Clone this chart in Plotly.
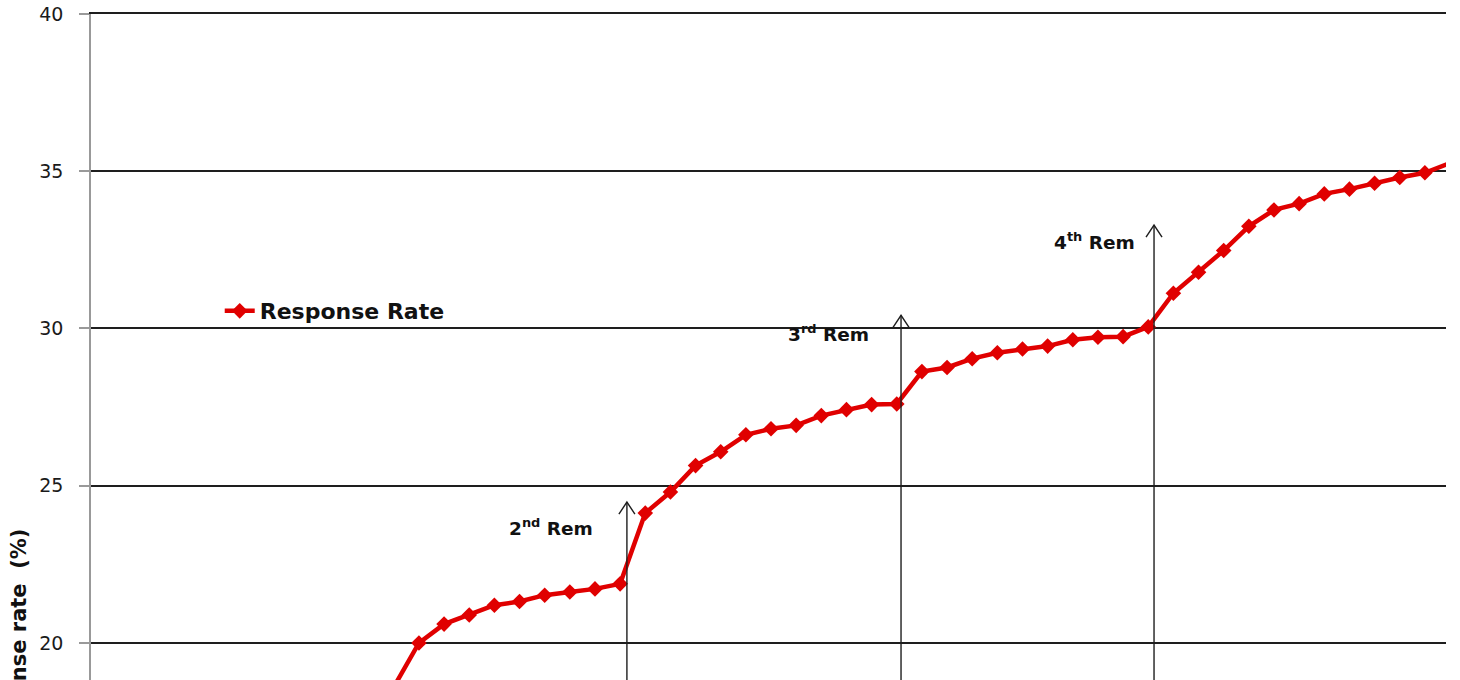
import plotly.graph_objects as go

# Response rate per step (x = step index); earlier steps sit below the visible window
steps = list(range(12, 55))
response_rate = [18.6, 20.0, 20.6, 20.89, 21.2, 21.32, 21.52, 21.62, 21.72, 21.88,
                 24.13, 24.8, 25.64, 26.08, 26.62, 26.81, 26.92, 27.23, 27.42, 27.58, 27.6,
                 28.63, 28.76, 29.04, 29.23, 29.35, 29.44, 29.64, 29.72, 29.74, 30.05,
                 31.12, 31.79, 32.48, 33.25, 33.77, 33.97, 34.28, 34.43, 34.62, 34.8, 34.95, 35.26]

# Remission markers: arrow position, arrow tip, label
rem_x = [21.27, 32.17, 42.23]
rem_tip = [24.48, 30.42, 33.29]
rem_labels = ['2<sup>nd</sup> Rem', '3<sup>rd</sup> Rem', '4<sup>th</sup> Rem']
label_x = [18.25, 29.3, 39.85]
label_y = [23.69, 29.85, 32.77]

y_ticks = [20, 25, 30, 35, 40]

RED = '#e00000'
INK = '#1e1e1e'

fig = go.Figure()
fig.add_trace(go.Scatter(x=steps, y=response_rate, mode='lines+markers', name='Response Rate',
                         line=dict(color=RED, width=4.5),
                         marker=dict(symbol='diamond', size=12, color=RED),
                         cliponaxis=False, showlegend=True))

# arrows: stem + open V head
for xa, tip in zip(rem_x, rem_tip):
    fig.add_shape(type='line', xref='x', yref='y', x0=xa, x1=xa, y0=10, y1=tip,
                  line=dict(color=INK, width=1.4))
    fig.add_shape(type='path', xref='x', yref='y', xsizemode='pixel', ysizemode='pixel',
                  xanchor=xa, yanchor=tip, path='M-8,-12 L0,0 L8,-12',
                  line=dict(color=INK, width=1.4))

for lx, ly, txt in zip(label_x, label_y, rem_labels):
    fig.add_annotation(x=lx, y=ly, text='<b>' + txt + '</b>', showarrow=False,
                       font=dict(family='DejaVu Sans', size=18.5, color='#111'))

# y axis title (mostly cut off at the bottom in the source)
fig.add_annotation(xref='paper', yref='y', x=-0.053, y=20.05, text='<b>Response rate  (%)</b>',
                   textangle=-90, showarrow=False, xanchor='center', yanchor='middle',
                   font=dict(family='DejaVu Sans', size=21, color='#111'))

fig.update_layout(width=1460, height=680, plot_bgcolor='white', paper_bgcolor='white',
                  showlegend=True,
                  margin=dict(l=91, r=14, t=14, b=0),
                  legend=dict(x=0.095, y=0.554, xanchor='left', yanchor='middle',
                              bgcolor='rgba(0,0,0,0)',
                              font=dict(family='DejaVu Sans', size=22, color='#111', weight='bold')))
# top x-axis line doubles as the 40 gridline
fig.update_xaxes(range=[-0.04, 53.84], side='top', showgrid=False, zeroline=False,
                 showline=True, linecolor=INK, linewidth=1.6,
                 showticklabels=False, ticks='')
fig.update_yaxes(range=[18.823, 40], tickvals=y_ticks, showgrid=True, gridcolor=INK, gridwidth=1.6,
                 zeroline=False, showline=True, linecolor='#999', linewidth=1.5,
                 ticks='outside', ticklen=10, tickcolor='#999', tickwidth=1.5,
                 ticklabelstandoff=12,
                 tickfont=dict(family='DejaVu Sans', size=19, color='#1a1a1a'))

fig.write_html('out.html', config={'displayModeBar': False},
               post_script="document.body.style.margin='0';")
